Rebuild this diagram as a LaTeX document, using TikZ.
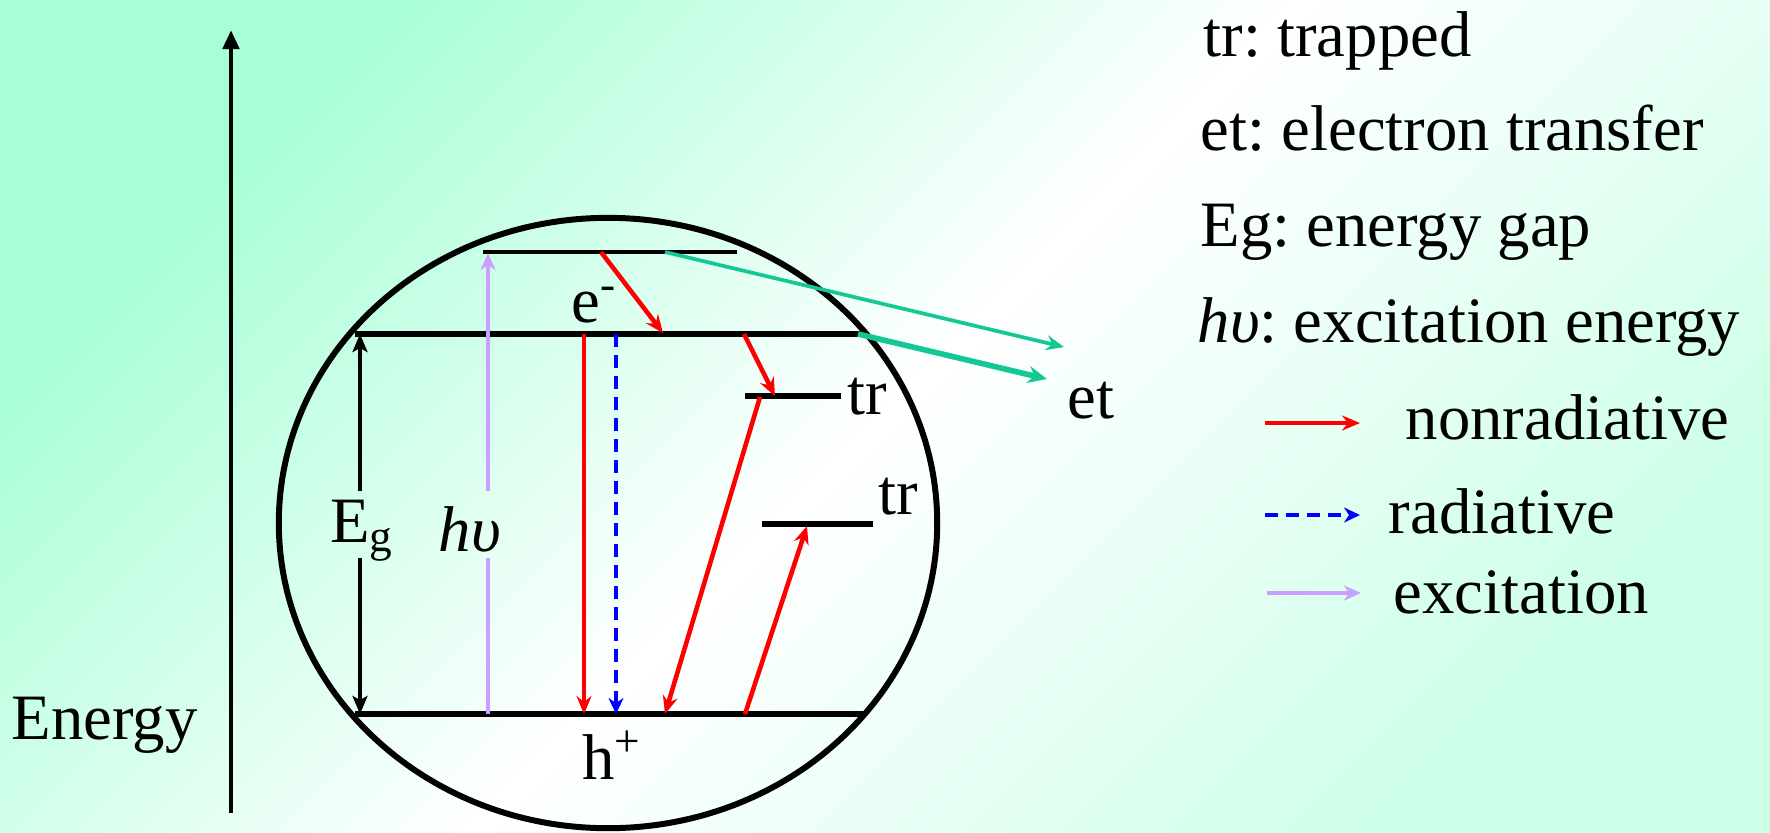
\documentclass[tikz,border=0pt]{standalone}
\usepackage{fontspec}
\setmainfont{Liberation Serif}
\usetikzlibrary{arrows.meta,shapes.geometric}
\definecolor{mintA}{RGB}{166,255,214}
\definecolor{mintB}{RGB}{205,255,232}
\definecolor{tealc}{RGB}{20,200,150}
\definecolor{lavc}{RGB}{200,160,255}
\frenchspacing
\begin{document}
\frenchspacing
\begin{tikzpicture}[x=0.01cm,y=-0.01cm,
  every node/.style={font=\fontsize{18.4}{22}\selectfont, inner sep=0pt},
  lbl/.style={anchor=base west},
  bandline/.style={line width=1.7pt},
  topline/.style={line width=1.15pt},
  trline/.style={line width=1.5pt},
  nonrad/.style={red, line width=1.3pt, -{Stealth[length=0.18cm,width=0.15cm,inset=0.06cm]}},
  radline/.style={blue, line width=1.3pt, dash pattern=on 0.13cm off 0.08cm, -{Stealth[length=0.16cm,width=0.15cm,inset=0.05cm]}},
  excline/.style={lavc, line width=0.95pt},
  excarrow/.style={excline, -{Stealth[length=0.17cm,width=0.15cm,inset=0.05cm]}},
  etthin/.style={tealc, line width=1.05pt, -{Stealth[length=0.18cm,width=0.15cm,inset=0.06cm]}},
  etthick/.style={tealc, line width=1.6pt, -{Stealth[length=0.19cm,width=0.17cm,inset=0.06cm]}},
  egarrow/.style={line width=0.95pt, -{Stealth[length=0.18cm,width=0.15cm,inset=0.04cm]}}
]
\shade[top color=mintA, bottom color=mintB, middle color=white, shading angle=45] (0,0) rectangle (1770,832);
\useasboundingbox (0,0) rectangle (1770,832);

% energy axis
\coordinate (axB) at (231,813);
\coordinate (axT) at (231,30);
\draw[line width=1.3pt, -{Triangle[length=0.19cm,width=0.16cm]}] (axB) -- (axT);
\node[lbl] (energy) at (11,739) {Energy};

% particle outline
\node[draw, ellipse, line width=1.7pt, minimum width=6.58cm, minimum height=6.1cm] (dot) at (608,523) {};

% levels
\coordinate (Tl) at (483,252); \coordinate (Tr) at (737,252);
\coordinate (CBl) at (355,334); \coordinate (CBr) at (865,334);
\coordinate (VBl) at (355,714); \coordinate (VBr) at (864,714);
\coordinate (trAl) at (745,396); \coordinate (trAr) at (841,396);
\coordinate (trBl) at (762,524); \coordinate (trBr) at (873,524);
\draw[topline] (Tl) -- (Tr);
\draw[bandline] (CBl) -- (CBr);
\draw[bandline] (VBl) -- (VBr);
\draw[trline] (trAl) -- (trAr);
\draw[trline] (trBl) -- (trBr);

% labels
\node[lbl] (em) at (571,322) {e\textsuperscript{-}};
\node[anchor=base] (hp) at (612,779) {h\textsuperscript{+}};
\node[lbl] (trA) at (847,414) {tr};
\node[lbl] (trB) at (878,514) {tr};
\node[lbl] (et) at (1067,418) {et};

% Eg
\coordinate (egT) at (360,334); \coordinate (egB) at (360,714);
\node[text height=0.5cm, text depth=0.15cm] (Eg) at (362,524.5) {E\textsubscript{g}};
\draw[egarrow] (egT |- Eg.north) -- (egT);
\draw[egarrow] (egB |- Eg.south) -- (egB);

% h nu
\coordinate (lavT) at (488,253); \coordinate (lavB) at (488,714);
\node[text height=0.59cm, text depth=0.06cm] (hv) at (470,524.5) {\textit{hυ}};
\draw[excline] (lavB) -- (lavB |- hv.south);
\draw[excarrow] (lavT |- hv.north) -- (lavT);

% transitions
\coordinate (a1) at (601,252); \coordinate (a2) at (663,333);
\coordinate (b1) at (584,334); \coordinate (b2) at (584,714);
\coordinate (c1) at (616,334); \coordinate (c2) at (616,714);
\coordinate (d1) at (744,334); \coordinate (d2) at (775,396);
\coordinate (e1) at (760,397); \coordinate (e2) at (665,714);
\coordinate (f1) at (745,714); \coordinate (f2) at (807,526);
\coordinate (g1) at (665,252); \coordinate (g2) at (1064,347);
\coordinate (h1) at (858,334); \coordinate (h2) at (1047,379);
\draw[nonrad] (a1) -- (a2);
\draw[nonrad] (b1) -- (b2);
\draw[radline] (c1) -- (c2);
\draw[nonrad] (d1) -- (d2);
\draw[nonrad] (e1) -- (e2);
\draw[nonrad] (f1) -- (f2);
\draw[etthin] (g1) -- (g2);
\draw[etthick] (h1) -- (h2);

% legend
\node[lbl] (L1) at (1203,56) {tr: trapped};
\node[lbl] (L2) at (1200,150) {et: electron transfer};
\node[lbl] (L3) at (1200,246) {Eg: energy gap};
\node[lbl] (L4) at (1197,342) {\textit{hυ}: excitation energy};
\node[lbl] (L5) at (1405,439) {nonradiative};
\node[lbl] (L6) at (1388,533) {radiative};
\node[lbl] (L7) at (1393,613) {excitation};
\coordinate (k1a) at (1265,423); \coordinate (k1b) at (1360,423);
\coordinate (k2a) at (1265,515); \coordinate (k2b) at (1360,515);
\coordinate (k3a) at (1267,593); \coordinate (k3b) at (1361,593);
\draw[nonrad, line width=1.4pt] (k1a) -- (k1b);
\draw[radline, line width=1.4pt] (k2a) -- (k2b);
\draw[excarrow, line width=1.15pt] (k3a) -- (k3b);
\end{tikzpicture}
\end{document}
